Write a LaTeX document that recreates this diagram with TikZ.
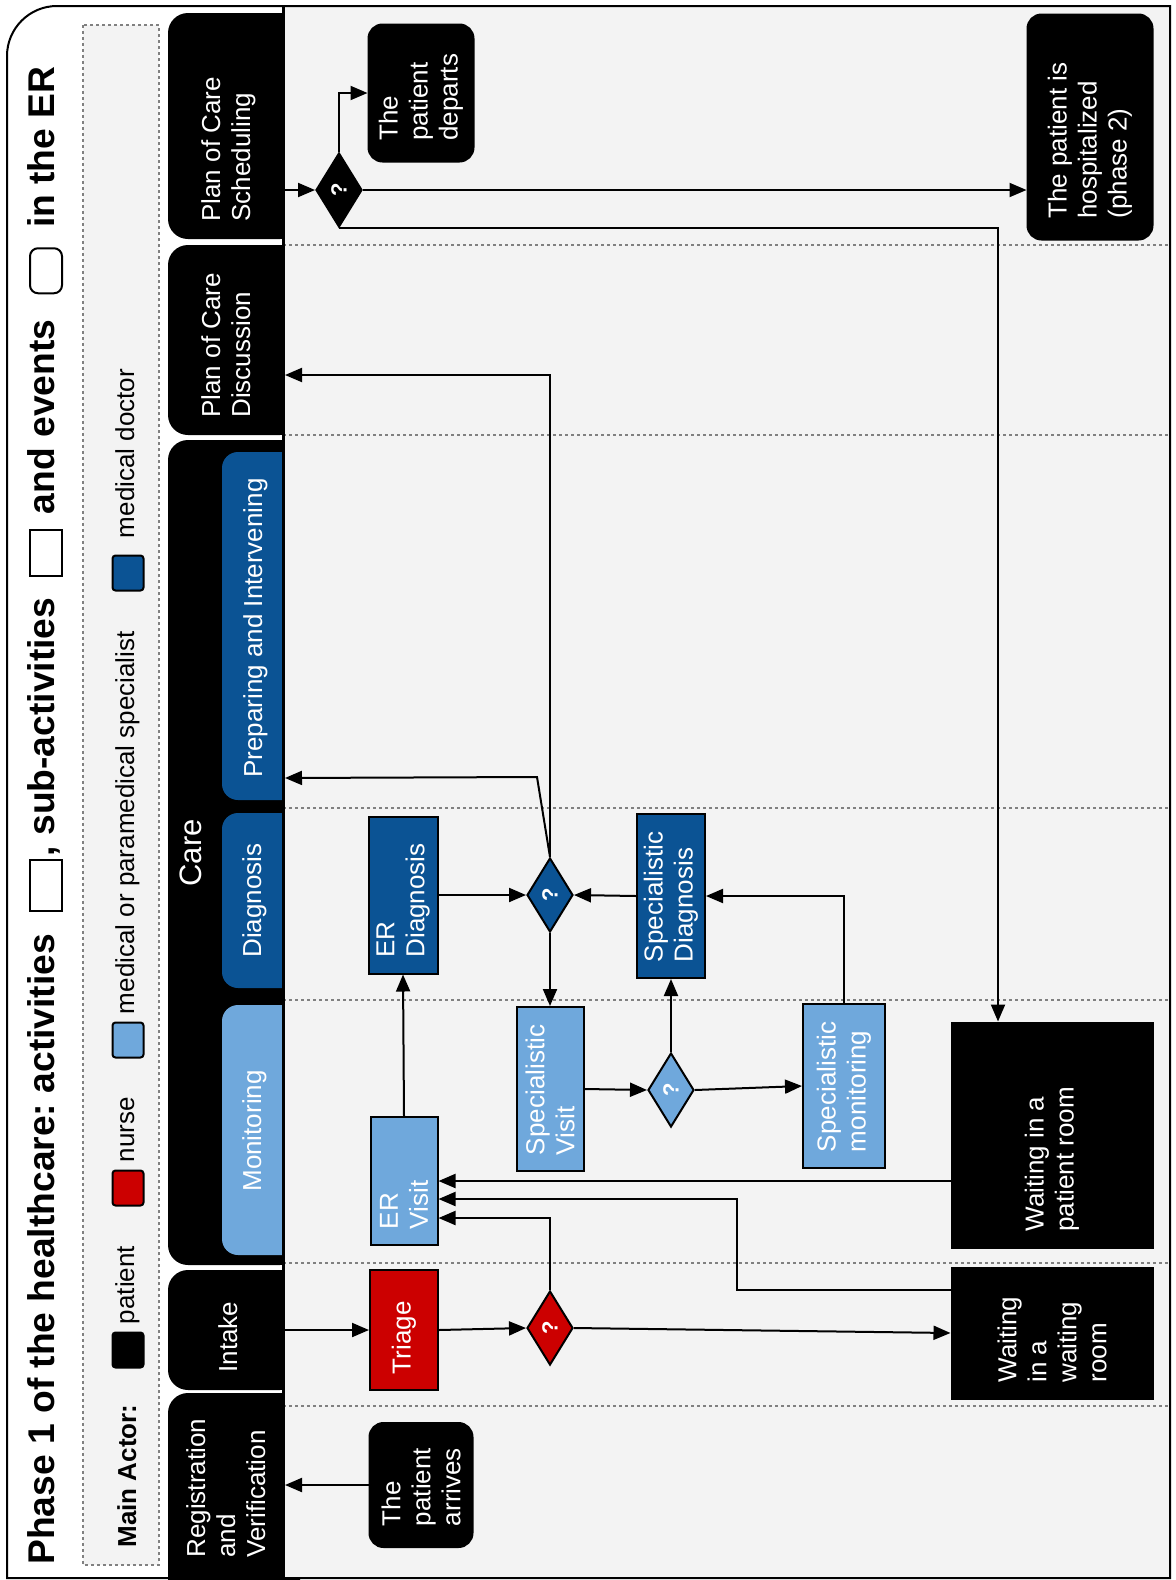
\documentclass[tikz,border=0pt]{standalone}
\usepackage{fontspec}
\setmainfont{Liberation Sans}
\usepackage{graphicx}
\usepackage{tikz}
\usetikzlibrary{calc}
\usetikzlibrary{positioning}
\usetikzlibrary{shapes.geometric}
\usetikzlibrary{arrows.meta}
\definecolor{lanebg}{HTML}{F3F3F3}
\definecolor{nursered}{HTML}{CC0000}
\definecolor{specblue}{HTML}{6FA8DC}
\definecolor{docblue}{HTML}{0B5394}
\frenchspacing
\newcommand{\uptext}[2]{\rotatebox{90}{\parbox{#1}{\raggedright #2}}}
\newcommand{\upline}[1]{\rotatebox{90}{\begin{tabular}{@{}l@{}}#1\end{tabular}}}
\newcommand{\upstrut}[1]{\rotatebox{90}{\strut #1}}
\tikzset{
  patbox/.style = {rectangle, draw=black, fill=black, line width=1pt,
    inner sep=0pt, text=white, font=\fontsize{13}{15}\selectfont},
  nursebox/.style = {patbox, fill=nursered},
  specbox/.style = {patbox, fill=specblue},
  docbox/.style = {patbox, fill=docblue},
  eventbox/.style = {patbox, rounded corners=7pt},
  choice/.style = {diamond, aspect=0.62, draw=black, line width=1pt,
    inner sep=0pt, minimum width=23pt, minimum height=37pt, text=white,
    font=\bfseries\fontsize{11}{13}\selectfont},
  headtab/.style = {rectangle, rounded corners=10pt, fill=black, inner sep=0pt},
  tabtxt/.style = {anchor=south, inner sep=0pt, text=white,
    font=\fontsize{13}{15}\selectfont},
  lanesep/.style = {gray, dash pattern=on 1.5pt off 1.5pt, line width=0.6pt},
  flow/.style = {-{Triangle[length=8.5pt,width=7pt]}, line width=1pt},
  keysq/.style = {rectangle, draw=black, line width=1pt, rounded corners=1.5pt,
    minimum width=15.5pt, minimum height=17.5pt, inner sep=0pt},
  keytxt/.style = {inner sep=0pt, font=\fontsize{13}{15}\selectfont},
  titletxt/.style = {inner sep=0pt, font=\bfseries\fontsize{18.6}{22}\selectfont},
  symbox/.style = {rectangle, draw=black, line width=1pt, fill=white,
    minimum width=16pt, inner sep=0pt}
}
\begin{document}
\begin{tikzpicture}[x=0.5pt, y=-0.5pt]
  \useasboundingbox (0,0) rectangle (1175,1580);

  % header tabs
  \node[headtab, minimum width=66pt, minimum height=113pt] (tsched) at (234,126) {};
  \node[headtab, minimum width=66pt, minimum height=95pt] (tdisc) at (234,340) {};
  \node[headtab, minimum width=66pt, minimum height=412.5pt] (tcare) at (234,852.5) {};
  \node[headtab, rounded corners=8pt, fill=docblue, minimum width=39pt, minimum height=174pt] (tprep) at (261,626) {};
  \node[headtab, rounded corners=8pt, fill=docblue, minimum width=39pt, minimum height=87.5pt] (tdiag) at (261,900.5) {};
  \node[headtab, rounded corners=8pt, fill=specblue, minimum width=39pt, minimum height=125pt] (tmon) at (261,1130) {};
  \node[headtab, minimum width=66pt, minimum height=60pt] (tintake) at (234,1330) {};
  \node[headtab, minimum width=66pt, minimum height=103.5pt] (treg) at (234,1496.5) {};

  \node[tabtxt] (hsched) at (229,222) {\upline{Plan of Care\\Scheduling}};
  \node[tabtxt] (hdisc) at (229,418) {\upline{Plan of Care\\Discussion}};
  \node[tabtxt, font=\fontsize{15.5}{18.6}\selectfont] (hcare) at (194,887) {\upline{Care}};
  \node[tabtxt] (hprep) at (256,778) {\upline{Preparing and Intervening}};
  \node[tabtxt] (hdiag) at (255,958) {\upline{Diagnosis}};
  \node[tabtxt] (hmon) at (255,1192) {\upline{Monitoring}};
  \node[tabtxt] (hintake) at (231,1373) {\upline{Intake}};
  \node[tabtxt] (hreg) at (229,1558) {\upline{Registration\\and\\Verification}};

  % lanes
  \fill[lanebg] (283,6) rectangle (1170,1578);
  \foreach \y in {245,435,808,1000,1263,1406}
    \draw[lanesep] (283,\y) -- (1170,\y);
  \draw[line width=1.5pt] (283,6) -- (283,1578);
  \coordinate (schedin) at (285,190);
  \coordinate (discin) at (285,375);
  \coordinate (prepin) at (285,778);
  \coordinate (intakein) at (285,1330);
  \coordinate (regin) at (285,1485);

  % legend
  \draw[lanesep, fill=lanebg] (83,25) rectangle (159,1565);
  \node[keytxt, anchor=south] (lmain) at (130,1548) {\upline{\textbf{Main Actor:}}};
  \node[keysq, fill=black] (kpat) at (128,1350) {};
  \node[keytxt, above=3.5pt of kpat] (lpat) {\upline{patient}};
  \node[keysq, fill=nursered] (knurse) at (128,1188) {};
  \node[keytxt, above=3.5pt of knurse] (lnurse) {\upline{nurse}};
  \node[keysq, fill=specblue] (kspec) at (128,1040) {};
  \node[keytxt, above=3.5pt of kspec] (lspec) {\upline{medical or paramedical specialist}};
  \node[keysq, fill=docblue] (kdoc) at (128,573) {};
  \node[keytxt, above=8pt of kdoc] (ldoc) {\upline{medical doctor}};

  % title
  \node[titletxt, anchor=south] (tphase) at (46,1565) {\upstrut{Phase 1 of the healthcare: activities}};
  \node[symbox, minimum height=25.5pt, above=11pt of tphase] (tact) {};
  \node[titletxt, above=1pt of tact] (tsub) {\upstrut{, sub-activities}};
  \node[symbox, minimum height=23pt, above=10pt of tsub] (tsubact) {};
  \node[titletxt, above=7.5pt of tsubact] (tev) {\upstrut{and events}};
  \node[symbox, minimum height=22.5pt, rounded corners=4pt, above=12.5pt of tev] (tevent) {};
  \node[titletxt, above=9.5pt of tevent] (ter) {\upstrut{in the ER}};

  % activities and events
  \node[eventbox, minimum width=51.5pt, minimum height=62pt] (arrive) at (421,1485) {\uptext{41pt}{The\\patient\\arrives}};
  \node[nursebox, minimum width=34pt, minimum height=60pt] (triage) at (404,1330) {\uptext{44pt}{Triage}};
  \node[choice, fill=nursered] (nq) at (550,1328) {\rotatebox{90}{?}};
  \node[patbox, minimum width=100.5pt, minimum height=65.5pt] (wroom) at (1052,1333) {\uptext{49.5pt}{Waiting\\in a\\waiting\\room}};
  \node[specbox, minimum width=33.5pt, minimum height=64pt] (ervisit) at (404,1181) {\uptext{48pt}{ER\\Visit}};
  \node[docbox, minimum width=34.5pt, minimum height=78.5pt] (erdiag) at (403,895) {\uptext{62.5pt}{ER\\Diagnosis}};
  \node[choice, fill=docblue] (dq) at (550,895) {\rotatebox{90}{?}};
  \node[docbox, minimum width=34pt, minimum height=82pt] (sdiag) at (671,896) {\uptext{66pt}{Specialistic\\Diagnosis}};
  \node[specbox, minimum width=33.5pt, minimum height=82pt] (svisit) at (550,1089) {\uptext{66pt}{Specialistic\\Visit}};
  \node[choice, fill=specblue] (sq) at (671,1090) {\rotatebox{90}{?}};
  \node[specbox, minimum width=41pt, minimum height=82pt] (smon) at (844,1086) {\uptext{66pt}{Specialistic\\monitoring}};
  \node[patbox, minimum width=100.5pt, minimum height=112.5pt] (proom) at (1052,1135) {\uptext{96.5pt}{Waiting in a\\patient room}};
  \node[choice, fill=black] (schq) at (339,190) {\rotatebox{90}{?}};
  \node[eventbox, minimum width=52.5pt, minimum height=68.5pt] (depart) at (421,93) {\uptext{47.5pt}{The\\patient\\departs}};
  \node[eventbox, minimum width=62.5pt, minimum height=112.5pt] (hosp) at (1090,127) {\uptext{91.5pt}{The patient is\\hospitalized\\(phase 2)}};

  % flows
  \draw[flow] (arrive.west) -- (regin);
  \draw[flow] (intakein) -- (triage.west);
  \draw[flow] (triage.east) -- (nq.west);
  \draw[flow] (nq.east) -- (wroom.west);
  \draw[flow] (nq.north) |- ($(ervisit.east)+(0,37)$);
  \draw[flow] ($(wroom.west)+(0,-43)$) -| ++(-214,-91) -- ($(ervisit.east)+(0,18)$);
  \draw[flow] (proom.west |- ervisit.east) -- (ervisit.east);
  \draw[flow] (ervisit.north) -- (erdiag.south);
  \draw[flow] (erdiag.east) -- (dq.west);
  \draw[flow] (sdiag.west) -- (dq.east);
  \draw[flow] (dq.south) -- (svisit.north);
  \draw[flow] (svisit.east) -- (sq.west);
  \draw[flow] (sq.north) -- (sdiag.south);
  \draw[flow] (sq.east) -- (smon.west);
  \draw[flow] (smon.north) |- (sdiag.east);
  \draw[flow] (dq.north) -- ++(-13,-80) -- (prepin);
  \draw[flow] (dq.north) |- (discin);
  \draw[flow] (schedin) -- (schq.west);
  \draw[flow] (schq.north) |- (depart.west);
  \draw[flow] (schq.east) -- (schq.east -| hosp.west);
  \draw[flow] (schq.south) -| ($(proom.north)+(-54,0)$);

  % frame
  \draw[line width=1pt] (7,1578) -- (7,56) .. controls (7,28.4) and (29.4,6) .. (57,6)
    -- (1170,6) -- (1170,1578) -- cycle;
\end{tikzpicture}
\end{document}
